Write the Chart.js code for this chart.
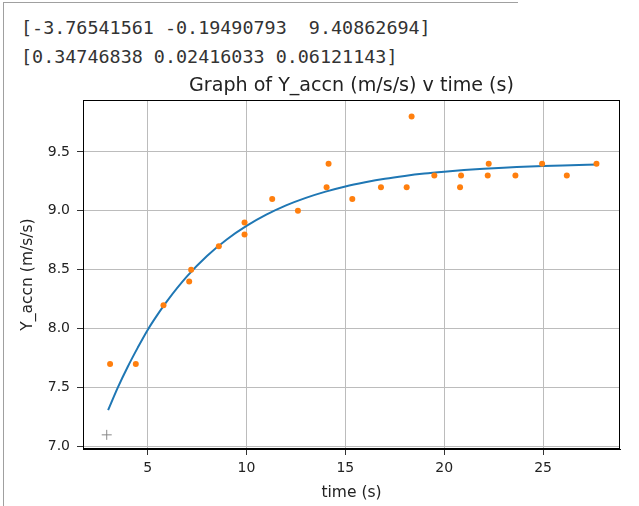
<!DOCTYPE html>
<html lang="en">
<head>
  <meta charset="UTF-8">
  <title>Graph of Y_accn</title>
  <script src="https://cdn.jsdelivr.net/npm/chart.js"></script>
  <style>
    * {
      margin: 0;
      padding: 0;
      box-sizing: border-box;
    }

    body {
      width: 639px;
      height: 506px;
      background: #fff;
      position: relative;
      overflow: hidden;
    }

    /* screenshot frame edges */
    .frame-left {
      position: absolute;
      left: 3px;
      top: 2px;
      width: 1px;
      height: 504px;
      background: #a0a0a0;
    }

    .frame-top {
      position: absolute;
      left: 3px;
      top: 2px;
      width: 515px;
      height: 1px;
      background: #a0a0a0;
    }

    .out {
      position: absolute;
      left: 21px;
      font-family: 'DejaVu Sans Mono', monospace;
      font-size: 18.4px;
      line-height: 22px;
      color: #333;
      white-space: pre;
    }

    #chart {
      position: absolute;
      left: 0;
      top: 0;
    }
  </style>
</head>
<body>
  <div class="frame-left"></div>
  <div class="frame-top"></div>
  <div class="out" style="top:17px">[-3.76541561 -0.19490793  9.40862694]</div>
  <div class="out" style="top:46px">[0.34746838 0.02416033 0.06121143]</div>

  <canvas id="chart" width="639" height="506"></canvas>

  <script>
    // measured samples
    const sampleTime = [3.1, 4.4, 5.8, 7.1, 7.2, 8.6, 9.9, 9.9, 11.3, 12.6, 14.05, 14.15, 15.35,
                        16.8, 18.1, 18.35, 19.5, 20.8, 20.85, 22.2, 22.25, 23.6, 24.95, 26.2, 27.7];
    const sampleAccn = [7.7, 7.7, 8.2, 8.4, 8.5, 8.7, 8.8, 8.9, 9.1, 9.0, 9.2, 9.4, 9.1,
                        9.2, 9.2, 9.8, 9.3, 9.2, 9.3, 9.3, 9.4, 9.3, 9.4, 9.3, 9.4];

    // fitted curve
    const fitTime = [3.0, 3.5, 4.0, 4.5, 5.0, 5.5, 6, 7, 8, 9, 10, 11, 12, 13, 14, 15, 16, 17, 18,
                     19, 20, 21, 22, 23, 24, 25, 26, 27.8];
    const fitAccn = [7.31, 7.505, 7.68, 7.84, 7.99, 8.12, 8.239, 8.446, 8.617, 8.757, 8.872, 8.967,
                     9.046, 9.110, 9.163, 9.207, 9.242, 9.272, 9.296, 9.316, 9.332, 9.346, 9.357,
                     9.366, 9.373, 9.380, 9.385, 9.392];

    // odd marker near the start
    const extraTime = [2.93];
    const extraAccn = [7.1];

    const xTicks = [5, 10, 15, 20, 25];
    const yTicks = [7.0, 7.5, 8.0, 8.5, 9.0, 9.5];

    const titleText = 'Graph of Y_accn (m/s/s) v time (s)';

    const toPoints = (xs, ys) => xs.map((x, i) => ({ x: x, y: ys[i] }));

    // axes box + title centred over the plot area
    const boxPlugin = {
      id: 'box',
      afterDraw(chart) {
        const a = chart.chartArea;
        const ctx = chart.ctx;
        ctx.save();
        ctx.strokeStyle = '#000';
        ctx.lineWidth = 1;
        ctx.strokeRect(Math.round(a.left) + 0.5, Math.round(a.top) + 0.5,
                       Math.round(a.right - a.left) - 1, Math.round(a.bottom - a.top) - 1);
        ctx.fillStyle = '#222';
        ctx.font = '19.1px "DejaVu Sans"';
        ctx.textAlign = 'center';
        ctx.textBaseline = 'middle';
        ctx.fillText(titleText, (a.left + a.right) / 2, 86);
        ctx.restore();
      }
    };

    const tickFont = { family: 'DejaVu Sans', size: 14 };
    const labelFont = { family: 'DejaVu Sans', size: 15.5 };

    new Chart(document.getElementById('chart'), {
      type: 'scatter',
      data: {
        datasets: [
          {
            data: toPoints(sampleTime, sampleAccn),
            backgroundColor: '#ff7f0e',
            borderColor: '#ff7f0e',
            pointRadius: 3,
            borderWidth: 0,
            order: 0
          },
          {
            type: 'line',
            data: toPoints(fitTime, fitAccn),
            borderColor: '#1f77b4',
            borderWidth: 2,
            pointRadius: 0,
            fill: false,
            cubicInterpolationMode: 'monotone',
            order: 1
          },
          {
            data: toPoints(extraTime, extraAccn),
            pointStyle: 'cross',
            pointRadius: 5,
            borderColor: '#888',
            borderWidth: 1,
            order: 2
          }
        ]
      },
      options: {
        responsive: false,
        animation: false,
        layout: { padding: { left: 0, right: 19, top: 100, bottom: 0 } },
        plugins: {
          legend: { display: false },
          tooltip: { enabled: false },
          title: { display: false }
        },
        scales: {
          x: {
            type: 'linear',
            min: 1.73,
            max: 28.89,
            afterBuildTicks: s => { s.ticks = xTicks.map(v => ({ value: v })); },
            afterFit: s => { s.height = 57; },
            grid: { color: '#bcbcbc', tickColor: '#333', tickLength: 6 },
            border: { color: '#000' },
            ticks: { color: '#222', font: tickFont, padding: 5, maxRotation: 0 },
            title: { display: true, text: 'time (s)', color: '#222', font: labelFont, padding: { top: 0, bottom: 4 } }
          },
          y: {
            min: 6.98,
            max: 9.94,
            afterBuildTicks: s => { s.ticks = yTicks.map(v => ({ value: v })); },
            afterFit: s => { s.width = 83; },
            grid: { color: '#bcbcbc', tickColor: '#333', tickLength: 6 },
            border: { color: '#000' },
            ticks: { color: '#222', font: tickFont, padding: 7, callback: v => v.toFixed(1) },
            title: { display: true, text: 'Y_accn (m/s/s)', color: '#222', font: labelFont, padding: { top: 19, bottom: 0 } }
          }
        }
      },
      plugins: [boxPlugin]
    });
  </script>
</body>
</html>
